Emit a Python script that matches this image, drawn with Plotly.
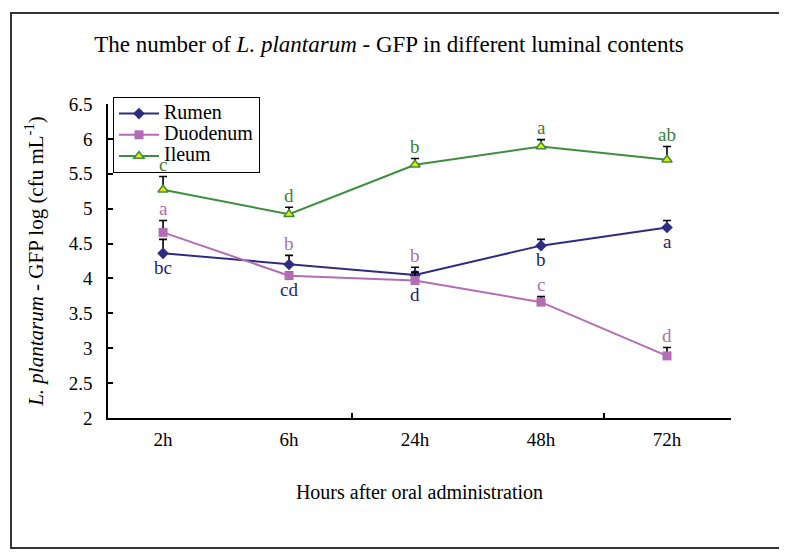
import plotly.graph_objects as go

hours = ["2h", "6h", "24h", "48h", "72h"]

rumen = [4.36, 4.20, 4.05, 4.47, 4.73]
rumen_err = [0.20, 0.13, 0.11, 0.09, 0.10]
rumen_letters = ["bc", "cd", "d", "b", "a"]

duodenum = [4.66, 4.04, 3.97, 3.66, 2.89]
duodenum_err = [0.17, 0.05, 0.12, 0.08, 0.12]
duodenum_letters = ["a", "b", "b", "c", "d"]

ileum = [5.27, 4.92, 5.63, 5.89, 5.70]
ileum_err = [0.19, 0.10, 0.09, 0.10, 0.19]
ileum_letters = ["c", "d", "b", "a", "ab"]

series_names = ["Rumen", "Duodenum", "Ileum"]

SERIF = "Liberation Serif, Times New Roman, serif"
C_RUMEN = "#2E2C82"
C_DUO = "#B46DB4"
C_ILEUM = "#3C8F3C"
T_RUMEN = "#25236E"
T_DUO = "#A574AC"
T_ILEUM = "#3B7F3B"

# plot-area geometry in pixels
L, R, T, B = 100, 64, 96, 144
W, H = 787 - L - R, 554 - T - B
XRANGE = [-0.437, 4.508]


def legend_label(s):
    # larger text than the legend's line spacing, like the tightly packed original
    return "<span style='font-size:20px'>" + s + "</span>"


def err(a):
    return dict(type="data", array=a, arrayminus=[0] * len(a), symmetric=False,
                color="black", thickness=1.6, width=4)


fig = go.Figure()
fig.add_trace(go.Scatter(x=hours, y=rumen, name=legend_label(series_names[0]), mode="lines+markers",
                         line=dict(color=C_RUMEN, width=2),
                         marker=dict(symbol="diamond", size=9, color=C_RUMEN),
                         error_y=err(rumen_err)))
fig.add_trace(go.Scatter(x=hours, y=duodenum, name=legend_label(series_names[1]), mode="lines+markers",
                         line=dict(color=C_DUO, width=2),
                         marker=dict(symbol="square", size=9, color=C_DUO),
                         error_y=err(duodenum_err)))
fig.add_trace(go.Scatter(x=hours, y=ileum, name=legend_label(series_names[2]), mode="lines+markers",
                         line=dict(color=C_ILEUM, width=2),
                         marker=dict(symbol="triangle-up", size=9, color="#E8E800",
                                     line=dict(color=C_ILEUM, width=1.5)),
                         error_y=err(ileum_err)))
# empty trace so the overlay axis carrying the boundary tick marks is drawn
fig.add_trace(go.Scatter(x=[], y=[], xaxis="x2", yaxis="y", showlegend=False, hoverinfo="skip"))

annotations = []
for i, h in enumerate(hours):
    annotations.append(dict(x=h, y=ileum[i] + ileum_err[i], text=ileum_letters[i],
                            showarrow=False, yshift=12, font=dict(color=T_ILEUM, size=19, family=SERIF)))
    top = duodenum[i] + duodenum_err[i]
    if abs(rumen[i] - duodenum[i]) < 0.3:
        top = max(top, rumen[i] + rumen_err[i])
    annotations.append(dict(x=h, y=top, text=duodenum_letters[i],
                            showarrow=False, yshift=12, font=dict(color=T_DUO, size=19, family=SERIF)))
    low = rumen[i]
    if abs(rumen[i] - duodenum[i]) < 0.3:
        low = min(low, duodenum[i])
    annotations.append(dict(x=h, y=low, text=rumen_letters[i],
                            showarrow=False, yshift=-14, font=dict(color=T_RUMEN, size=19, family=SERIF)))

fig.update_layout(
    width=787, height=554,
    margin=dict(l=L, r=R, t=T, b=B),
    paper_bgcolor="white", plot_bgcolor="white",
    font=dict(family=SERIF, size=19, color="black"),
    title=dict(text="The number of <i>L. plantarum</i> - GFP in different luminal contents",
               x=381 / 787, xref="container", y=1 - 36 / 554, yref="container",
               xanchor="center", yanchor="middle", font=dict(size=23, family=SERIF)),
    xaxis=dict(type="category", categoryarray=hours, range=XRANGE,
               showline=True, linecolor="black", linewidth=1.6, ticks="",
               showgrid=False, zeroline=False, ticklabelstandoff=3,
               title=dict(text="Hours after oral administration", standoff=36,
                          font=dict(size=20, family=SERIF)),
               tickfont=dict(size=19, family=SERIF)),
    xaxis2=dict(overlaying="x", anchor="y", side="bottom", range=XRANGE,
                tickvals=[1.5, 3.5], ticks="inside", ticklen=5, tickwidth=1.5, tickcolor="black",
                showticklabels=False, showline=False, showgrid=False, zeroline=False),
    yaxis=dict(range=[2, 6.5], dtick=0.5, ticks="inside", ticklen=5, tickwidth=1.5, tickcolor="black",
               showline=True, linecolor="black", linewidth=1.6, showgrid=False, zeroline=False,
               ticklabelstandoff=10,
               title=dict(text="<i>L. plantarum</i> - GFP log (cfu mL<sup>-1</sup>)", standoff=19,
                          font=dict(size=21, family=SERIF)),
               tickfont=dict(size=19, family=SERIF)),
    legend=dict(x=0.008, y=1 + 7 / H, xanchor="left", yanchor="top",
                bordercolor="black", borderwidth=1, bgcolor="white",
                font=dict(size=14, family=SERIF), tracegroupgap=0, itemwidth=40),
    annotations=annotations,
    shapes=[dict(type="rect", xref="paper", yref="paper",
                 x0=(3 - L) / W, x1=(776 - L) / W,
                 y0=(T + H - 540) / H, y1=(T + H - 5) / H,
                 line=dict(color="#333333", width=2), fillcolor="rgba(0,0,0,0)", layer="below")],
    showlegend=True,
)

fig.write_html("out.html")
